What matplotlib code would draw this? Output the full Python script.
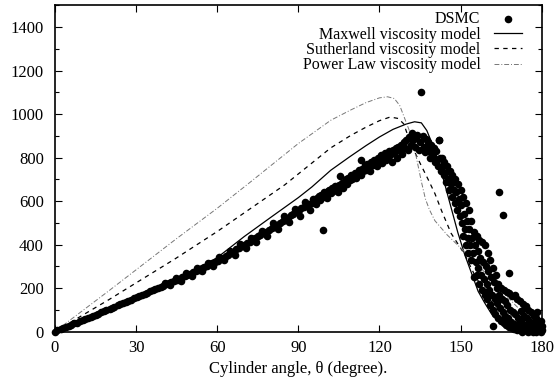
import matplotlib.pyplot as plt
from matplotlib.ticker import MultipleLocator

plt.rcParams["font.family"] = ["Liberation Serif", "DejaVu Serif"]

# DSMC samples, lower rising branch (thin band)
rise_x = [0, 0.8, 2.1, 3.0, 4.2, 5.1, 5.9, 7.2, 8.0, 9.1, 10.2, 11.0, 12.1, 13.2, 13.9,
          15.1, 16.0, 17.2, 18.1, 19.0, 20.2, 21.1, 22.0, 23.2, 24.1, 25.0, 26.2, 27.1,
          28.0, 29.1, 30.2, 31.0, 32.1, 33.2, 34.0, 35.1, 36.2, 37.0, 38.1, 39.2, 40.0,
          41.1, 42.2, 43.0, 44.1, 45.2, 46.0, 47.1, 48.2, 49.0, 50.1, 51.2, 52.0, 53.1,
          54.2, 55.0, 56.1, 57.2, 58.0, 59.1, 60.2, 61.0, 62.1, 63.2, 64.0, 65.1, 66.2,
          67.0, 68.1, 69.2, 70.0, 71.1, 72.2, 73.0, 74.1, 75.2, 76.0, 77.1, 78.2, 79.0,
          80.1, 81.2, 82.0, 83.1, 84.2, 85.0, 86.1, 87.2, 88.0, 89.1, 90.2, 91.0, 92.1,
          93.2, 94.0]
rise_y = [0, 6, 10, 16, 20, 27, 30, 37, 40, 47, 51, 57, 60, 68, 72, 78, 82, 89, 93, 100,
          104, 110, 113, 121, 125, 131, 135, 142, 146, 153, 158, 163, 167, 174, 178, 185,
          189, 195, 200, 206, 210, 217, 221, 228, 232, 239, 243, 251, 254, 262, 266, 274,
          278, 285, 290, 297, 302, 309, 314, 322, 326, 335, 340, 349, 354, 363, 368, 378,
          383, 392, 398, 408, 413, 423, 429, 438, 444, 454, 459, 469, 476, 486, 491, 501,
          508, 518, 524, 534, 540, 550, 557, 566, 571, 581, 587]

# second layer of the same branch
rise2_x = [40.6, 42.5, 44.6, 46.5, 48.6, 50.5, 52.6, 54.5, 56.6, 58.5, 60.6, 62.5, 64.6,
           66.5, 68.6, 70.5, 72.6, 74.5, 76.6, 78.5, 80.6, 82.5, 84.6, 86.5, 88.6, 90.5,
           92.6, 94.5]
rise2_y = [222, 212, 244, 234, 268, 256, 291, 279, 316, 302, 342, 327, 371, 354, 401, 382,
           432, 410, 464, 441, 497, 471, 530, 502, 563, 532, 594, 560]

# upper rising branch up to the peak (wider band)
mid_x = [95, 95.5, 96, 96.5, 97, 97.5, 98, 98.5, 99, 99.5, 100, 100.5, 101, 101.5, 102,
         102.5, 103, 103.5, 104, 104.5, 105, 105.5, 106, 106.5, 107, 107.5, 108, 108.5,
         109, 109.5, 110, 110.5, 111, 111.5, 112, 112.5, 113, 113.5, 114, 114.5, 115,
         115.5, 116, 116.5, 117, 117.5, 118, 118.5, 119, 119.5, 120, 120.5, 121, 121.5,
         122, 122.5, 123, 123.5, 124, 124.5, 125, 125.5, 126, 126.5, 127, 127.5, 128,
         128.5, 129, 129.5, 130, 130.5, 131, 131.5, 132, 132.5, 133, 133.5, 134, 134.5, 135]
mid_y = [592, 610, 600, 585, 615, 625, 605, 630, 620, 640, 628, 612, 645, 650, 635, 660,
         648, 670, 655, 640, 675, 668, 685, 660, 690, 700, 680, 705, 695, 720, 700, 712,
         730, 705, 735, 745, 720, 750, 738, 765, 745, 770, 755, 740, 780, 765, 790, 770,
         760, 800, 785, 810, 775, 800, 820, 790, 805, 830, 810, 780, 835, 820, 845, 800,
         850, 830, 860, 815, 870, 845, 880, 835, 895, 860, 915, 880, 850, 895, 905, 835, 870]

# falling branch behind the peak
fall_x = [136.0, 136.3, 136.7, 137.1, 137.6, 138.0, 138.3, 138.7, 139.1, 139.6, 140.0,
          140.3, 140.7, 141.0, 141.4, 141.8, 142.0, 142.4, 142.8, 143.0, 143.4, 143.8,
          144.0, 144.3, 144.7, 145.0, 145.4, 145.8, 146.0, 146.3, 146.7, 147.0, 147.4,
          147.8, 148.0, 148.3, 148.6, 148.9, 149.0, 149.4, 149.8, 150.0, 150.3, 150.6,
          150.9, 151.0, 151.3, 151.6, 151.9, 152.0, 152.3, 152.6, 152.9, 153.0, 153.3,
          153.6, 153.9, 154.0, 154.3, 154.6, 154.9, 155.0, 155.3, 155.6, 155.9, 156.0,
          156.3, 156.6, 156.9, 157.0, 157.3, 157.6, 157.9, 158.0, 158.3, 158.6, 158.9,
          159.0, 159.3, 159.6, 159.9, 160.0, 160.3, 160.6, 160.9, 161.0, 161.3, 161.6,
          161.9, 162.0, 162.3, 162.6, 162.9, 162.1, 163.0, 163.3, 163.6, 163.9, 164.0,
          164.3, 164.6, 164.9, 165.0, 165.3, 165.6, 165.9, 166.0, 166.3, 166.6, 166.9,
          167.0, 167.3, 167.6, 167.9, 168.0, 168.3, 168.6, 168.9, 169.0, 169.3, 169.6,
          169.9, 170.0, 170.3, 170.6, 170.9, 171.0, 171.3, 171.6, 171.9, 172.0, 172.2,
          172.5, 172.8, 172.9, 173.0, 173.3, 173.6, 173.9, 174.0, 174.2, 174.4, 174.7,
          174.9, 175.0, 175.3, 175.6, 175.9, 176.0, 176.3, 176.6, 176.9, 177.0, 177.3,
          177.6, 177.9, 178.0, 178.4, 178.5, 178.8, 179.0, 179.3, 179.7, 179.8, 180.0,
          180.0]
fall_y = [900, 850, 825, 885, 840, 870, 830, 800, 860, 815, 845, 800, 780, 830, 790, 760,
          880, 800, 740, 800, 760, 720, 780, 730, 690, 760, 700, 650, 740, 680, 620, 720,
          650, 590, 700, 640, 560, 600, 680, 610, 530, 650, 580, 500, 440, 620, 540, 470,
          400, 590, 510, 430, 360, 560, 470, 400, 330, 510, 430, 360, 250, 460, 400, 320,
          260, 440, 370, 290, 220, 420, 340, 260, 190, 410, 320, 240, 170, 400, 300, 220,
          150, 360, 280, 190, 120, 330, 250, 170, 100, 290, 230, 150, 80, 25, 260, 200,
          130, 60, 220, 170, 110, 50, 200, 150, 90, 40, 190, 140, 70, 30, 180, 120, 60, 20,
          175, 100, 45, 15, 165, 90, 35, 10, 170, 80, 30, 5, 150, 60, 25, 5, 140, 96, 50,
          15, 0, 125, 70, 30, 8, 110, 118, 60, 20, 0, 100, 50, 25, 5, 90, 40, 20, 0, 70, 35,
          10, 0, 60, 88, 30, 5, 40, 20, 0, 50, 25, 5]

# isolated DSMC points
out_x = [99.2, 105.4, 113.0, 135.3, 142.0, 164.2, 165.7, 167.9]
out_y = [467, 715, 790, 1100, 880, 640, 535, 270]

# viscosity model curves
maxwell_x = [0, 15, 30, 45, 55, 60, 70, 80, 90, 95, 102, 109, 115, 120, 125, 130, 133,
             135.5, 137.5, 139.5, 141.5, 144, 146.5, 149, 151.5, 154, 156.5, 159, 161.5,
             164, 166.5, 169, 172, 176, 180]
maxwell_y = [0, 78, 160, 243, 305, 340, 437, 527, 616, 665, 742, 804, 855, 895, 930, 955,
             965, 960, 925, 865, 795, 685, 570, 455, 355, 270, 185, 130, 80, 45, 20, 8, 2,
             0, 0]

sutherland_x = [0, 20, 44.5, 60, 85, 102, 109.5, 115, 120, 124, 127, 129, 131.5, 135, 138,
                140.5, 143, 146.5, 151.5, 155, 160, 165, 170, 175, 180]
sutherland_y = [0, 147, 335, 460, 675, 845, 903, 940, 970, 987, 980, 955, 866, 775, 700,
                635, 555, 452, 355, 265, 160, 85, 35, 10, 0]

powerlaw_x = [0, 20, 44.5, 60, 72.5, 90, 102, 109.5, 115, 120, 123, 125.5, 127.5, 129.5,
              131.5, 133.5, 135.5, 137, 138.5, 140.5, 145, 151, 155, 160, 165, 170, 174,
              178.5, 180]
powerlaw_y = [0, 188, 423, 567, 690, 865, 972, 1020, 1053, 1075, 1080, 1072, 1040, 975,
              910, 810, 690, 610, 560, 510, 445, 373, 325, 258, 190, 125, 75, 25, 0]

fs = 11.5

fig = plt.figure(figsize=(5.57, 3.79), dpi=100)
ax = fig.add_axes([0.0987, 0.1253, 0.8738, 0.8602])

dot = dict(s=30, color="black", linewidths=0, clip_on=False, zorder=3)
h_dsmc = ax.scatter(rise_x, rise_y, label="DSMC", **dot)
ax.scatter(rise2_x, rise2_y, **dot)
ax.scatter(mid_x, mid_y, **dot)
ax.scatter(fall_x, fall_y, **dot)
ax.scatter(out_x, out_y, **dot)

(h_max,) = ax.plot(maxwell_x, maxwell_y, color="black", lw=0.9,
                   label="Maxwell viscosity model")
(h_suth,) = ax.plot(sutherland_x, sutherland_y, color="black", lw=0.9,
                    dashes=(3.5, 3.5), label="Sutherland viscosity model")
(h_pow,) = ax.plot(powerlaw_x, powerlaw_y, color="#777777", lw=0.7,
                   dashes=(5, 2, 1, 2), label="Power Law viscosity model")

ax.set_xlim(0, 180)
ax.set_ylim(0, 1500)
ax.xaxis.set_major_locator(MultipleLocator(30))
ax.yaxis.set_major_locator(MultipleLocator(200))
ax.yaxis.set_minor_locator(MultipleLocator(100))
ax.tick_params(which="both", direction="in", top=True, right=True, labelsize=12,
               width=0.8)
ax.tick_params(which="major", length=5)
ax.tick_params(which="minor", length=3)
ax.tick_params(axis="x", pad=6)
ax.tick_params(axis="y", pad=8)
for sp in ax.spines.values():
    sp.set_linewidth(1.2)

ax.set_xlabel("Cylinder angle, θ (degree).", fontsize=12, labelpad=4)

ax.legend(handles=[h_dsmc, h_max, h_suth, h_pow], loc="upper right",
          bbox_to_anchor=(0.9595, 0.982), frameon=False, markerfirst=False,
          fontsize=fs, borderpad=0, borderaxespad=0, labelspacing=-0.04,
          handlelength=1.75, handletextpad=0.85, scatterpoints=1)

fig.savefig("out.png", dpi=100)
